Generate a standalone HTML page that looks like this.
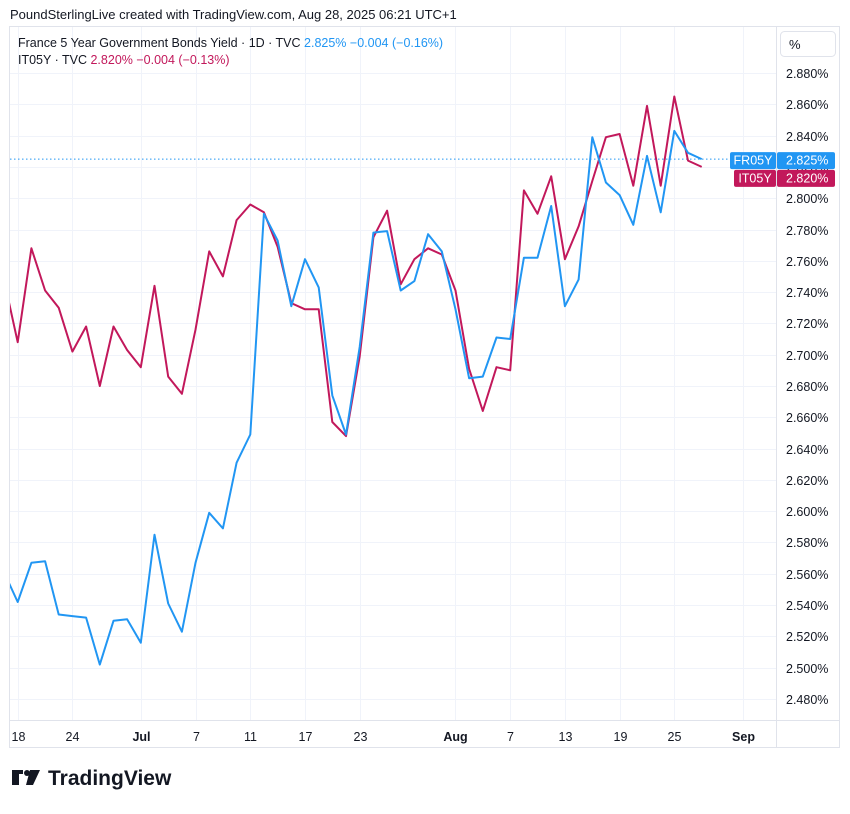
<!DOCTYPE html>
<html><head><meta charset="utf-8">
<style>
body{margin:0;background:#fff;width:850px;height:809px;overflow:hidden;font-family:"Liberation Sans",sans-serif;}
svg text{font-family:"Liberation Sans",sans-serif;}
</style></head>
<body>
<svg id="chart" width="850" height="809" viewBox="0 0 850 809" xmlns="http://www.w3.org/2000/svg">
<text x="10" y="19" font-size="13" fill="#131722">PoundSterlingLive created with TradingView.com, Aug 28, 2025 06:21 UTC+1</text>
<rect x="9.5" y="26.5" width="830" height="721" fill="none" stroke="#e0e3eb"/>
<g id="grid"></g>
<line x1="776.5" y1="27" x2="776.5" y2="747" stroke="#e0e3eb"/>
<line x1="10" y1="720.5" x2="839" y2="720.5" stroke="#e0e3eb"/>
<g id="yticks"></g>
<g id="xticks"></g>
<clipPath id="pc"><rect x="10" y="27" width="766" height="693"/></clipPath>
<g id="series" clip-path="url(#pc)"></g>
<g><rect x="780.5" y="31.5" width="55" height="25" rx="4" fill="#fff" stroke="#e0e3eb"/><text x="789" y="49" font-size="13" fill="#131722">%</text></g>
<g>
<text x="18" y="47" font-size="12.5" fill="#131722">France 5 Year Government Bonds Yield · 1D · TVC <tspan fill="#2196f3">2.825%</tspan> <tspan fill="#2196f3">−0.004 (−0.16%)</tspan></text>
<text x="18" y="64" font-size="12.5" fill="#131722">IT05Y · TVC <tspan fill="#c2185b">2.820%</tspan> <tspan fill="#c2185b">−0.004 (−0.13%)</tspan></text>
</g>
<g id="badges"></g>
<g>
<path d="M12 770h11v4h-4v11h-7z" fill="#131722"/>
<circle cx="27" cy="773" r="3" fill="#131722"/>
<path d="M30 770h10l-7 15h-7z" fill="#131722"/>
<text x="48" y="785" font-size="21" font-weight="bold" fill="#131722">TradingView</text>
</g>
</svg>
<script>
const dayIndex=[-1,0,1,2,3,4,5,6,7,8,9,10,11,12,13,14,15,16,17,18,19,20,21,22,23,24,25,26,27,28,29,30,31,32,33,34,35,36,37,38,39,40,41,42,43,44,45,46,47,48,49,50];
const itValues=[2.748,2.708,2.768,2.741,2.730,2.702,2.718,2.680,2.718,2.703,2.692,2.744,2.686,2.675,2.716,2.766,2.750,2.786,2.796,2.791,2.769,2.733,2.729,2.729,2.657,2.648,2.699,2.775,2.792,2.745,2.761,2.768,2.764,2.741,2.691,2.664,2.692,2.690,2.805,2.790,2.814,2.761,2.782,2.811,2.839,2.841,2.808,2.859,2.808,2.865,2.824,2.820];
const frValues=[2.561,2.542,2.567,2.568,2.534,2.533,2.532,2.502,2.530,2.531,2.516,2.585,2.541,2.523,2.567,2.599,2.589,2.631,2.649,2.790,2.773,2.731,2.761,2.743,2.674,2.649,2.705,2.778,2.779,2.741,2.747,2.777,2.766,2.729,2.685,2.686,2.711,2.710,2.762,2.762,2.795,2.731,2.748,2.839,2.810,2.802,2.783,2.827,2.791,2.843,2.829,2.825];
const yTickValues=[2.88,2.86,2.84,2.82,2.80,2.78,2.76,2.74,2.72,2.70,2.68,2.66,2.64,2.62,2.60,2.58,2.56,2.54,2.52,2.50,2.48];
const xTickLabels=["18","24","Jul","7","11","17","23","Aug","7","13","19","25","Sep"];
const xTickIndex=[0,4,9,13,17,21,25,32,36,40,44,48,53];
const xTickBold=[false,false,true,false,false,false,false,true,false,false,false,false,true];
const NS="http://www.w3.org/2000/svg";
function X(i){return 17.7+13.68*i;}
function Y(v){return 73+(2.88-v)*1565;}
function mk(tag,attrs,parent){const e=document.createElementNS(NS,tag);for(const k in attrs)e.setAttribute(k,attrs[k]);parent.appendChild(e);return e;}
const grid=document.getElementById('grid'),yt=document.getElementById('yticks'),xt=document.getElementById('xticks');
yTickValues.forEach(v=>{
 const y=Math.round(Y(v))+0.5;
 const l=mk('line',{x1:10,x2:776,y1:y,y2:y,stroke:'#f0f3fa'},grid);
 
 
 const t=mk('text',{x:786,y:y+4.5,'font-size':12.5,fill:'#131722'},yt);
 
 
 t.textContent=v.toFixed(3)+'%';
});
xTickIndex.forEach((i,k)=>{
 const x=Math.round(X(i))+0.5;
 if(x<776){const l=mk('line',{x1:x,x2:x,y1:27,y2:720,stroke:'#f0f3fa'},grid);
 
 }
 const t=mk('text',{x:x,y:741,'font-size':12.5,fill:'#131722','text-anchor':'middle','font-weight':xTickBold[k]?'bold':'normal'},xt);
 
 
 t.textContent=xTickLabels[k];
});
const s=document.getElementById('series');
const lastFr=frValues[frValues.length-1],lastIt=itValues[itValues.length-1];
const dl=mk('line',{x1:10,x2:776,y1:Y(lastFr),y2:Y(lastFr),stroke:'#2196f3','stroke-dasharray':'1.5 2.5'},s);


function pts(vals){return vals.map((v,k)=>X(dayIndex[k]).toFixed(1)+','+Y(v).toFixed(1)).join(' ');}
const it=mk('polyline',{points:pts(itValues),fill:'none',stroke:'#c2185b','stroke-width':2,'stroke-linejoin':'round'},s);


const fr=mk('polyline',{points:pts(frValues),fill:'none',stroke:'#2196f3','stroke-width':2,'stroke-linejoin':'round'},s);


const b=document.getElementById('badges');
function badge(name,label,val,color,y,lx){
 const g=mk('g',{},b);
 
 
 mk('rect',{x:lx,y:y-8,width:776-lx,height:17,rx:2,fill:color},g);
 mk('rect',{x:777,y:y-8,width:58,height:17,rx:2,fill:color},g);
 const t1=mk('text',{x:(lx+776)/2,y:y+4.5,'font-size':12.5,fill:'#fff','text-anchor':'middle'},g);t1.textContent=label;
 const t2=mk('text',{x:786,y:y+4.5,'font-size':12.5,fill:'#fff'},g);t2.textContent=val.toFixed(3)+'%';
}
badge('fr05y-price-badge','FR05Y',lastFr,'#2196f3',Y(lastFr)+1,730);
badge('it05y-price-badge','IT05Y',lastIt,'#c2185b',Y(lastIt)+11,734);
</script>
</body></html>
